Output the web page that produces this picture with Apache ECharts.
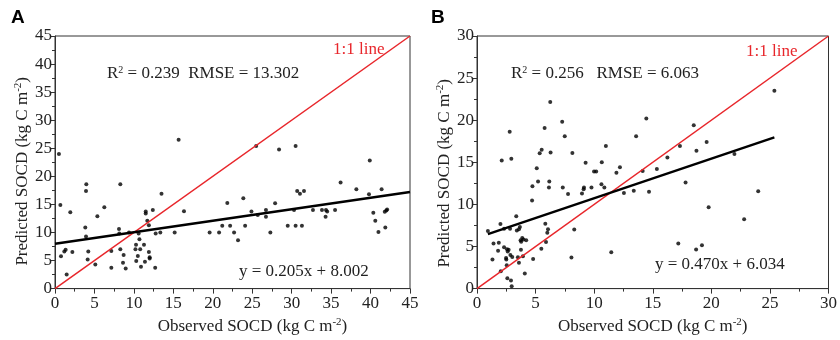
<!DOCTYPE html>
<html><head><meta charset="utf-8">
<script src="https://cdn.jsdelivr.net/npm/echarts@6/dist/echarts.min.js"></script>
<style>html,body{margin:0;padding:0;background:#fff}#c{width:840px;height:340px}</style>
</head><body><div id="c"></div>
<script>
// Panel A observed / predicted
const pointsA = [
[0.5,24.0],[0.68,14.9],[0.76,5.75],[1.18,6.6],[1.35,6.9],[1.48,2.5],[1.94,13.6],[2.2,6.5],
[3.97,18.6],[3.93,17.4],[3.84,10.9],[3.93,9.3],[4.22,6.6],[4.14,5.2],[5.11,4.3],[5.37,12.9],
[6.25,14.5],[7.14,6.7],[7.14,3.7],[8.11,10.6],[8.28,18.6],[8.15,9.8],[8.28,7.0],[8.7,6.0],
[8.62,4.6],[8.96,3.6],[9.38,10.0],[10.27,7.8],[10.2,7.0],[10.3,4.9],[10.6,9.8],[10.5,5.8],
[10.7,8.8],[10.8,7.0],[10.9,3.9],[11.28,7.8],[11.4,4.8],[11.5,13.75],[11.5,13.4],[11.7,12.1],
[11.9,11.3],[11.9,6.5],[12.0,5.6],[12.0,5.35],[12.4,14.0],[12.7,3.7],[12.76,9.8],[13.35,10.0],
[13.5,16.9],[15.17,10.0],[15.67,26.5],[16.35,13.8],[19.6,10.0],[20.8,10.0],[21.2,11.2],[21.84,15.25],
[22.2,11.2],[22.7,10.0],[23.2,8.6],[23.87,16.1],[24.1,11.2],[24.9,13.75],[25.5,25.4],[25.7,13.1],
[26.74,14.0],[26.74,12.8],[27.3,10.0],[27.9,15.2],[28.4,24.8],[29.5,11.2],[30.3,14.0],[30.5,25.4],
[30.5,11.2],[30.7,17.4],[31.05,16.9],[31.3,11.2],[31.56,17.4],[32.7,14.0],[33.84,14.0],[34.3,12.8],
[34.35,14.0],[34.5,13.75],[35.5,14.0],[36.2,18.9],[38.2,17.7],[39.9,22.8],[39.8,16.8],[40.35,13.5],
[40.6,12.1],[41.0,10.1],[41.4,17.7],[41.8,13.7],[41.87,10.9],[42.0,13.9],[42.1,14.1]
];
// Panel B observed / predicted
const pointsB = [
[0.93,6.83],[1.32,3.45],[1.41,5.37],[1.8,4.5],[1.86,5.45],[2.0,7.67],[2.03,2.07],[2.11,15.2],
[2.31,7.1],[2.31,4.9],[2.48,3.64],[2.5,3.45],[2.54,2.76],[2.56,4.68],[2.62,4.41],[2.59,1.23],
[2.7,4.6],[2.79,18.64],[2.82,7.1],[2.85,4.0],[2.9,0.96],[2.93,15.42],[2.96,0.27],[3.01,3.76],
[3.35,8.6],[3.4,6.9],[3.49,3.72],[3.58,3.07],[3.58,7.06],[3.66,7.33],[3.72,5.75],[3.75,4.6],
[3.77,5.56],[3.86,6.0],[3.92,3.84],[3.97,5.83],[4.08,1.8],[4.2,5.75],[4.7,10.47],[4.73,12.16],
[4.79,3.53],[5.1,14.3],[5.21,12.73],[5.35,16.07],[5.49,4.72],[5.52,16.5],[5.77,19.06],[5.83,7.71],
[5.89,5.52],[6.0,6.64],[6.06,7.06],[6.14,12.0],[6.17,12.73],[6.25,22.17],[6.28,16.15],[7.27,19.83],
[7.32,12.0],[7.49,18.1],[7.77,11.24],[8.06,3.68],[8.14,16.11],[8.3,7.02],[8.96,11.28],[9.1,11.8],
[9.13,12.0],[9.27,14.96],[9.77,12.0],[9.99,13.92],[10.17,13.92],[10.62,12.39],[10.65,15.0],[10.87,12.0],
[11.0,16.95],[11.46,4.33],[11.9,13.77],[12.2,14.42],[12.54,11.35],[13.38,11.62],[13.58,18.1],[14.14,13.96],
[14.45,20.2],[14.68,11.5],[15.35,14.19],[16.25,15.57],[17.18,5.37],[17.32,16.95],[17.8,12.6],[18.5,19.4],
[18.7,4.64],[18.73,16.38],[19.2,5.14],[19.6,17.4],[19.77,9.67],[21.97,16.0],[22.8,8.25],[24.0,11.55],
[25.38,23.5]
];
const oneToOneA = [[0,0],[45,45]];
const oneToOneB = [[0,0],[30,30]];
const fitA = [[0,8.002],[45,17.227]];
const fitB = [[0.93,6.471],[25.38,17.963]];
const axisMaxA = 45, axisMaxB = 30, tickStep = 5;
const statsA = ['0.239','13.302'], statsB = ['0.256','6.063'];
const eqA = 'y = 0.205x + 8.002', eqB = 'y = 0.470x + 6.034';

const serif = '"Liberation Serif","Times New Roman",serif';
const supRich = {sup:{fontSize:10, verticalAlign:'top', padding:[0,0,8,0], fontFamily:serif, color:'#222'}};
function mkAxis(gi, max, isY, namePad){
  return {
    gridIndex: gi, type:'value', min:0, max:max, interval:tickStep,
    name: isY ? 'Predicted SOCD (kg C m{sup|-2})' : 'Observed SOCD (kg C m{sup|-2})',
    nameLocation:'middle', nameGap: isY ? 22 : 22,
    nameTextStyle:{fontFamily:serif, fontSize:17, color:'#222', padding:namePad,
      rich:{sup:{fontSize:11, fontFamily:serif, color:'#222', padding:[0,0,9,0]}}},
    axisLine:{show:true, onZero:false, lineStyle:{color:'#333', width:1}},
    axisTick:{show:true, inside:false, length:5, lineStyle:{color:'#333'}},
    minorTick:{show:true, splitNumber:2, length:3, lineStyle:{color:'#333'}},
    splitLine:{show:false},
    axisLabel:{fontFamily:serif, fontSize:17, color:'#222', margin: isY ? 3 : 6}
  };
}
const chart = echarts.init(document.getElementById('c'), null, {renderer:'canvas'});
const grids = [
  {left:55, right:430, top:36, bottom:43, show:true, borderColor:'#333', borderWidth:1},
  {left:477, right:8, top:36, bottom:43, show:true, borderColor:'#333', borderWidth:1}
];
const scat = (gi, d) => ({type:'scatter', xAxisIndex:gi, yAxisIndex:gi, data:d, symbolSize:4, itemStyle:{color:'#000'}, z:3, silent:true});
const ln = (gi, d, c, w) => ({type:'line', xAxisIndex:gi, yAxisIndex:gi, data:d, symbol:'none', lineStyle:{color:c, width:w}, z:4, silent:true});
function txt(x, y, t, opts){
  return {type:'text', left:x, top:y, style:Object.assign({text:t, fontFamily:serif, fontSize:17, fill:'#222'}, opts||{})};
}
chart.setOption({
  animation:false,
  grid: grids,
  xAxis:[mkAxis(0, axisMaxA, false, [0,0,0,40]), mkAxis(1, axisMaxB, false, [0,0,0,0])],
  yAxis:[mkAxis(0, axisMaxA, true, [0,18,0,0]), mkAxis(1, axisMaxB, true, [0,22,0,0])],
  series:[
    scat(0, pointsA), ln(0, oneToOneA, '#e8262b', 1.5), ln(0, fitA, '#000', 2.5),
    scat(1, pointsB), ln(1, oneToOneB, '#e8262b', 1.5), ln(1, fitB, '#000', 2.5)
  ],
  graphic:[
    {type:'text', left:11, top:8, style:{text:'A', fontFamily:'"Liberation Sans",Arial,sans-serif', fontWeight:'bold', fontSize:19, fill:'#000'}},
    {type:'text', left:431, top:8, style:{text:'B', fontFamily:'"Liberation Sans",Arial,sans-serif', fontWeight:'bold', fontSize:19, fill:'#000'}},
    txt(333, 41, '1:1 line', {fill:'#e8262b'}),
    txt(746, 43, '1:1 line', {fill:'#e8262b'}),
    {type:'text', left:107, top:65, style:{text:'R{sup|2} = '+statsA[0]+'  RMSE = '+statsA[1], fontFamily:serif, fontSize:17, fill:'#222', rich:supRich}},
    {type:'text', left:511, top:65, style:{text:'R{sup|2} = '+statsB[0]+'   RMSE = '+statsB[1], fontFamily:serif, fontSize:17, fill:'#222', rich:supRich}},
    txt(239, 263, eqA),
    txt(655, 256, eqB)
  ]
});
</script></body></html>
